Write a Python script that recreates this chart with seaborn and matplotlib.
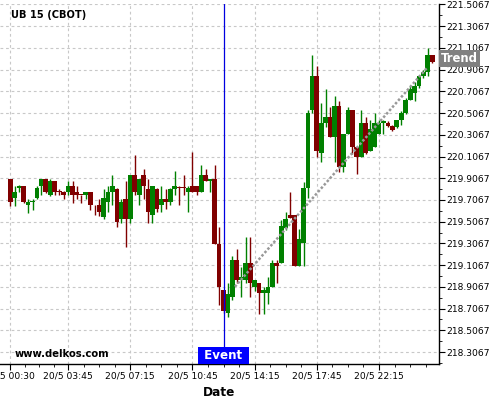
import matplotlib
matplotlib.use('Agg')
import matplotlib.pyplot as plt
import matplotlib.transforms as mtransforms
from matplotlib.ticker import AutoMinorLocator, FixedLocator
import numpy as np
import seaborn as sns

# 15 minute candles of UB 15 (CBOT), 20/5
opens = [219.904, 219.724, 219.816, 219.840, 219.656, 219.690, 219.724, 219.840, 219.904, 219.748,
         219.877, 219.785, 219.779, 219.779, 219.840, 219.779, 219.757, 219.748, 219.776, 219.635,
         219.656, 219.552, 219.687, 219.776, 219.810, 219.534, 219.718, 219.534, 219.938, 219.748,
         219.938, 219.810, 219.564, 219.810, 219.656, 219.718, 219.687, 219.810, 219.822, 219.822,
         219.779, 219.840, 219.840, 219.779, 219.938, 219.877, 219.901, 219.304, 218.876, 218.663,
         218.816, 219.154, 218.970, 218.970, 219.124, 218.908, 218.939, 218.847, 218.847, 218.908,
         219.124, 219.124, 219.446, 219.568, 219.568, 219.099, 219.313, 219.820, 220.535, 220.848,
         220.137, 220.418, 220.468, 220.289, 220.572, 220.008, 220.314, 220.535, 220.197, 220.105,
         220.413, 220.160, 220.197, 220.314, 220.419, 220.413, 220.388, 220.382, 220.443, 220.510,
         220.627, 220.694, 220.756, 220.848, 220.888, 221.042]
highs = [219.904, 219.840, 219.846, 219.840, 219.718, 219.718, 219.840, 219.904, 219.904, 219.904,
         219.877, 219.810, 219.785, 219.877, 219.877, 219.840, 219.757, 219.776, 219.776, 219.656,
         219.718, 219.810, 219.840, 219.938, 219.816, 219.718, 219.877, 219.938, 220.122, 219.901,
         219.993, 219.901, 219.840, 219.816, 219.840, 219.810, 219.816, 219.969, 219.840, 219.938,
         219.840, 220.153, 219.840, 220.030, 219.993, 219.901, 220.030, 219.457, 218.876, 218.939,
         219.190, 219.252, 219.092, 219.368, 219.368, 218.970, 218.939, 218.908, 218.995, 219.154,
         219.154, 219.522, 219.593, 219.777, 219.568, 219.437, 219.875, 220.535, 221.041, 220.940,
         220.597, 220.726, 220.566, 220.664, 220.621, 220.314, 220.566, 220.535, 220.197, 220.535,
         220.468, 220.443, 220.505, 220.443, 220.443, 220.430, 220.395, 220.443, 220.530, 220.650,
         220.760, 220.790, 220.860, 220.900, 221.103, 221.042]
lows = [219.651, 219.650, 219.779, 219.681, 219.586, 219.617, 219.718, 219.748, 219.770, 219.739,
        219.748, 219.748, 219.718, 219.748, 219.681, 219.718, 219.681, 219.718, 219.617, 219.564,
        219.558, 219.528, 219.595, 219.656, 219.457, 219.497, 219.274, 219.497, 219.748, 219.656,
        219.718, 219.497, 219.497, 219.595, 219.595, 219.626, 219.656, 219.748, 219.656, 219.748,
        219.595, 219.779, 219.748, 219.779, 219.877, 219.779, 219.304, 218.738, 218.666, 218.626,
        218.786, 218.939, 218.810, 218.939, 218.816, 218.871, 218.654, 218.657, 218.749, 218.902,
        218.945, 219.124, 219.430, 219.538, 219.099, 219.099, 219.099, 219.722, 220.510, 220.100,
        220.059, 220.376, 220.289, 220.059, 219.967, 219.967, 220.314, 220.130, 219.946, 220.105,
        220.130, 220.160, 220.197, 220.314, 220.314, 220.380, 220.345, 220.370, 220.400, 220.500,
        220.627, 220.621, 220.738, 220.827, 220.848, 220.971]
closes = [219.687, 219.776, 219.840, 219.687, 219.687, 219.696, 219.816, 219.904, 219.779, 219.877,
          219.779, 219.779, 219.748, 219.840, 219.748, 219.748, 219.751, 219.776, 219.656, 219.629,
          219.595, 219.724, 219.776, 219.840, 219.503, 219.687, 219.534, 219.938, 219.779, 219.901,
          219.840, 219.595, 219.840, 219.626, 219.718, 219.687, 219.810, 219.840, 219.816, 219.816,
          219.816, 219.779, 219.779, 219.938, 219.877, 219.901, 219.304, 218.906, 218.686, 218.841,
          219.154, 218.970, 218.995, 219.124, 218.945, 218.970, 218.847, 218.878, 218.908, 219.124,
          219.101, 219.467, 219.529, 219.538, 219.099, 219.345, 219.820, 220.510, 220.848, 220.160,
          220.413, 220.468, 220.289, 220.572, 220.008, 220.314, 220.535, 220.197, 220.105, 220.413,
          220.137, 220.357, 220.413, 220.419, 220.434, 220.388, 220.351, 220.443, 220.510, 220.627,
          220.726, 220.756, 220.848, 220.888, 221.042, 220.980]

x_tick_pos = [0, 13, 27, 41, 55, 69, 83]
x_tick_labels = ['20/5 00:30', '20/5 03:45', '20/5 07:15', '20/5 10:45',
                 '20/5 14:15', '20/5 17:45', '20/5 22:15']
y_tick_values = [218.3067, 218.5067, 218.7067, 218.9067, 219.1067, 219.3067, 219.5067,
                 219.7067, 219.9067, 220.1067, 220.3067, 220.5067, 220.7067, 220.9067,
                 221.1067, 221.3067, 221.5067]

event_idx = 48
trend_x = [50.56, 93.7]
trend_y = [218.908, 220.919]
trend_label_y = 221.01

GREEN = '#008000'
RED = '#800000'

sns.set_theme(style='white')
plt.rcParams['font.family'] = ['DejaVu Sans']

fig = plt.figure(figsize=(5, 4), dpi=100)
ax = fig.add_axes([0, 0.09, 0.878, 0.89925])

idx = np.arange(len(opens))
o = np.array(opens)
c = np.array(closes)
colors = np.where(c >= o, GREEN, RED)
bottom = np.minimum(o, c)
height = np.maximum(np.abs(c - o), 0.008)

ax.vlines(idx, lows, highs, colors=colors, linewidth=1.0, zorder=3)
ax.bar(idx, height, bottom=bottom, width=1.08, color=colors, linewidth=0, zorder=4)

# trend line
sns.lineplot(x=trend_x, y=trend_y, ax=ax, color='#999999', linestyle=(0, (1, 0.8)),
             linewidth=1.8, zorder=5)

# event line
ax.axvline(event_idx, color='#0000e0', linewidth=0.9, zorder=6)

ax.set_xlim(-2.32, 96.5)
ax.set_ylim(218.1964, 221.5085)

ax.xaxis.set_major_locator(FixedLocator(x_tick_pos))
ax.set_xticklabels(x_tick_labels)
minor = []
for a, b in zip(x_tick_pos[:-1], x_tick_pos[1:]):
    minor += list(np.linspace(a, b, 5)[1:-1])
minor += [83 + 3.5, 83 + 7, 83 + 10.5]
ax.xaxis.set_minor_locator(FixedLocator(minor))

ax.yaxis.tick_right()
ax.set_yticks(y_tick_values)
ax.set_yticklabels(['%.4f' % v for v in y_tick_values])
ax.yaxis.set_minor_locator(AutoMinorLocator(2))

ax.grid(True, which='major', color='#c8c8c8', linestyle=(0, (2.5, 2.5)), linewidth=0.8, zorder=0)
ax.set_axisbelow(True)

sns.despine(ax=ax, left=True, top=True, right=False, bottom=False)
for s in ['right', 'bottom']:
    ax.spines[s].set_color('black')
    ax.spines[s].set_linewidth(1.0)

ax.tick_params(axis='both', which='major', direction='out', length=4, width=0.8,
               labelsize=6.6, pad=1.5, colors='black', bottom=True, right=True)
ax.tick_params(axis='both', which='minor', direction='out', length=2, width=0.6,
               colors='black', bottom=True, right=True)
ax.tick_params(axis='y', which='both', left=False)

ax.set_xlabel('Date', fontsize=8.7, fontweight='bold', labelpad=4, color='black')
ax.set_ylabel('')

blend_y = mtransforms.blended_transform_factory(ax.transAxes, ax.transData)
ax.annotate('Trend', xy=(1.0, trend_label_y), xycoords=blend_y, xytext=(1.5, 0),
            textcoords='offset points', ha='left', va='center', color='white',
            fontsize=8.4, fontweight='bold', zorder=10, annotation_clip=False,
            bbox=dict(boxstyle='square,pad=0.17', fc='#808080', ec='none'))

blend_x = mtransforms.blended_transform_factory(ax.transData, ax.transAxes)
ax.annotate(' Event ', xy=(event_idx, 0.0), xycoords=blend_x, xytext=(0, 1.5),
            textcoords='offset points', ha='center', va='bottom', color='white',
            fontsize=8.6, fontweight='bold', zorder=10, annotation_clip=False,
            bbox=dict(boxstyle='square,pad=0.17', fc='#0000ff', ec='none'))

fig.text(10.7 / 500, 1 - 15 / 400, 'UB 15 (CBOT)', fontsize=7.1, fontweight='bold',
         ha='left', va='center', color='black')
fig.text(15 / 500, 1 - 354 / 400, 'www.delkos.com', fontsize=7.2, fontweight='bold',
         ha='left', va='center', color='black')

fig.savefig('out.png', dpi=100)
